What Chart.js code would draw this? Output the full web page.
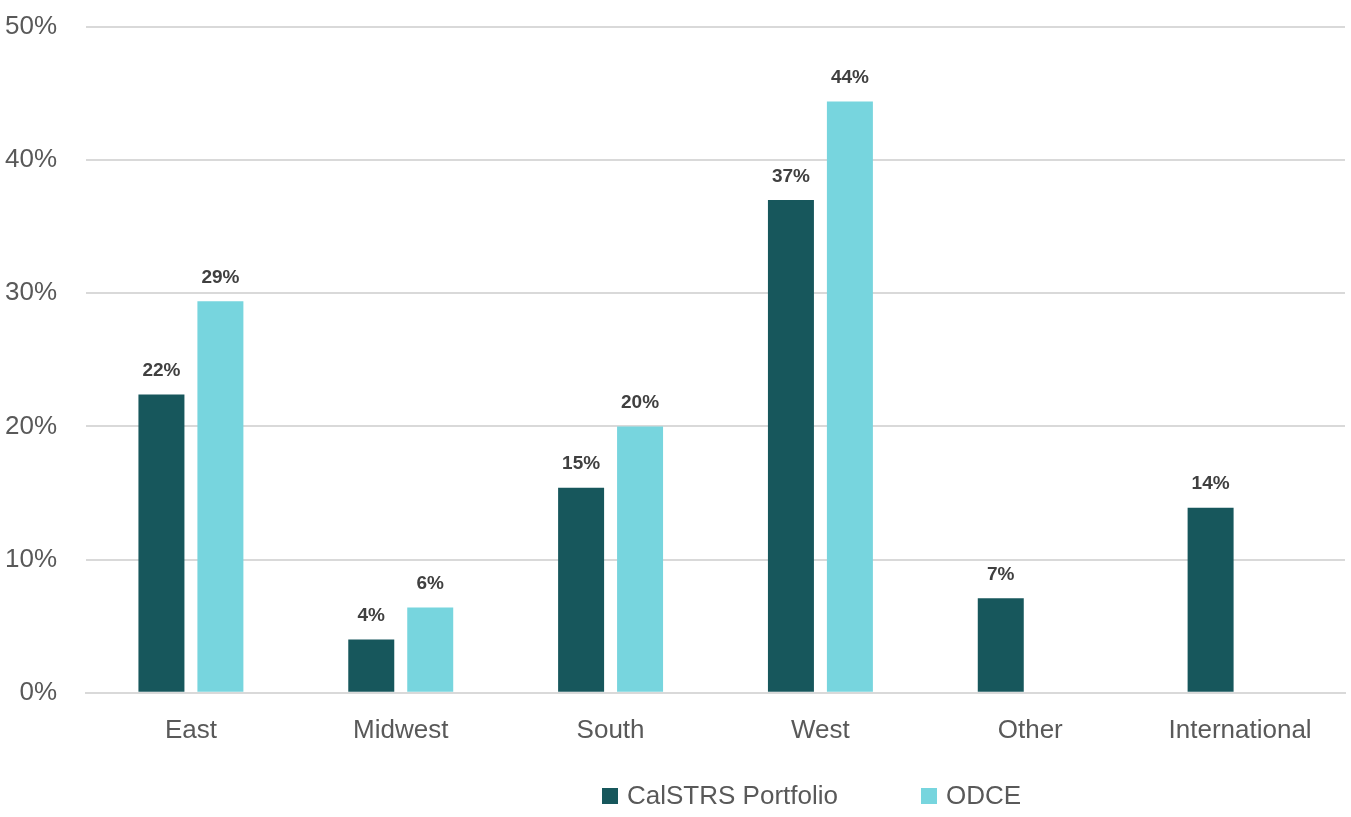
<!DOCTYPE html>
<html>
<head>
<meta charset="utf-8">
<script src="https://cdn.jsdelivr.net/npm/chart.js@4/dist/chart.umd.min.js"></script>
<style>
  html, body { margin: 0; padding: 0; background: #fff; }
  #wrap { position: relative; width: 1351px; height: 817px; }
  #legend {
    position: absolute; left: 602px; top: 780px;
    font-family: "Liberation Sans", Arial, sans-serif;
    font-size: 26px; color: #595959; display: flex; align-items: center;
  }
  #legend span.sw { display: inline-block; width: 16px; height: 16px; margin-right: 9px; }
  #legend span.item { display: inline-flex; align-items: center; margin-right: 83px; }
</style>
</head>
<body>
<div id="wrap">
  <canvas id="chart" width="1351" height="817"></canvas>
  <div id="legend"></div>
</div>
<script>
const categories = ['East', 'Midwest', 'South', 'West', 'Other', 'International'];
const calstrs = [22.4, 4.0, 15.4, 37.0, 7.1, 13.9];
const odce = [29.4, 6.4, 20.0, 44.4, null, null];
const yTicks = [0, 10, 20, 30, 40, 50];
const seriesNames = ['CalSTRS Portfolio', 'ODCE'];
const seriesColors = ['#17575c', '#77d5de'];

const FONT = '"Liberation Sans", Arial, sans-serif';

const barLabels = {
  id: 'barLabels',
  afterDatasetsDraw(chart) {
    const ctx = chart.ctx;
    ctx.save();
    ctx.font = 'bold 19px ' + FONT;
    ctx.fillStyle = '#404040';
    ctx.textAlign = 'center';
    ctx.textBaseline = 'bottom';
    chart.data.datasets.forEach((ds, i) => {
      chart.getDatasetMeta(i).data.forEach((bar, j) => {
        const v = ds.data[j];
        if (v == null) return;
        ctx.fillText(Math.round(v) + '%', bar.x, bar.y - 14);
      });
    });
    ctx.restore();
  }
};

new Chart(document.getElementById('chart'), {
  type: 'bar',
  data: {
    labels: categories,
    datasets: [
      { label: seriesNames[0], data: calstrs, backgroundColor: seriesColors[0] },
      { label: seriesNames[1], data: odce, backgroundColor: seriesColors[1] }
    ]
  },
  options: {
    responsive: false,
    animation: false,
    layout: { padding: { top: 27, right: 6, bottom: 57, left: 0 } },
    datasets: { bar: { categoryPercentage: 0.562, barPercentage: 0.78 } },
    plugins: { legend: { display: false }, tooltip: { enabled: false } },
    scales: {
      x: {
        grid: { display: false },
        border: { color: '#d9d9d9', width: 2 },
        ticks: { color: '#595959', font: { family: FONT, size: 26 }, padding: 14 }
      },
      y: {
        min: 0, max: 50,
        afterFit: s => { s.width = 86; s.paddingTop = 0; s.paddingBottom = 0; },
        afterBuildTicks: s => { s.ticks = yTicks.map(v => ({ value: v })); },
        grid: { color: '#d9d9d9', lineWidth: 2, drawTicks: false },
        border: { display: false },
        ticks: { color: '#595959', font: { family: FONT, size: 26 }, padding: 29, callback: v => v + '%' }
      }
    }
  },
  plugins: [barLabels]
});

const legend = document.getElementById('legend');
seriesNames.forEach((n, i) => {
  legend.innerHTML += '<span class="item"><span class="sw" style="background:' + seriesColors[i] + '"></span>' + n + '</span>';
});
</script>
</body>
</html>
